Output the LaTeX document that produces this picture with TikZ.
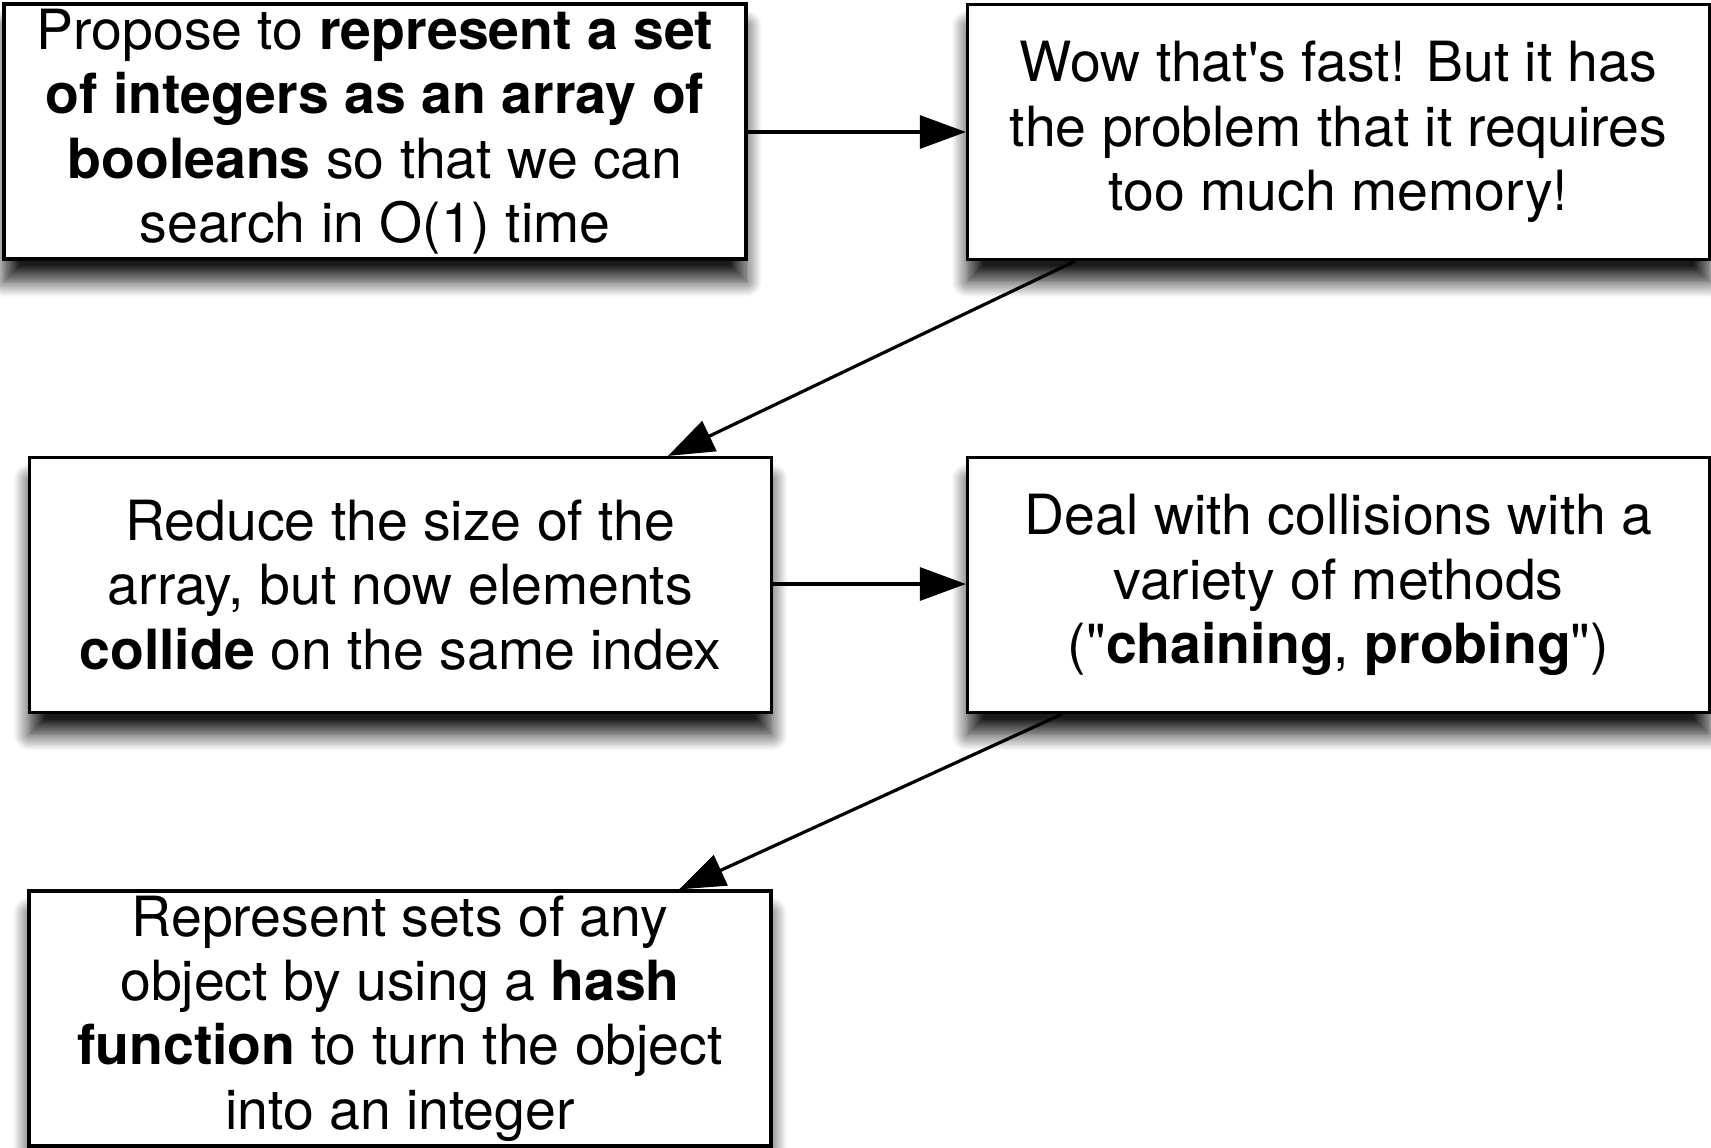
\documentclass[tikz,border=0pt]{standalone}
\usepackage{fontspec}
\setmainfont{TeX Gyre Heros}
\usetikzlibrary{arrows.meta,shadows.blur}
\tikzset{
  box/.style={draw=black, line width=1.6pt, fill=white, align=center,
    minimum width=371pt, minimum height=127.5pt, inner sep=0pt,
    font=\fontsize{27.7}{32.2}\selectfont,
    blur shadow={shadow xshift=0pt, shadow yshift=-11pt, shadow blur radius=8pt, shadow opacity=90, shadow blur steps=12}},
  conn/.style={line width=1.6pt, -{Triangle[length=23pt,width=16.5pt]}}
}
\begin{document}
\begin{tikzpicture}[x=0.5pt,y=-0.5pt]
\useasboundingbox (0,0) rectangle (1711,1147);
\node[box] (b1) at (375,131.5) {Propose to \textbf{represent a set}\\ \textbf{of integers as an array of}\\ \textbf{booleans} so that we can\\ search in O(1) time};
\node[box] (b2) at (1338.5,132) {Wow that\textquotesingle s fast! But it has\\ the problem that it requires\\ too much memory!};
\node[box] (b3) at (400.5,585) {Reduce the size of the\\ array, but now elements\\ \textbf{collide} on the same index};
\node[box] (b4) at (1338.5,585) {Deal with collisions with a\\ variety of methods\\ (\textquotedbl\textbf{chaining}, \textbf{probing}\textquotedbl)};
\node[box] (b5) at (400,1018.5) {Represent sets of any\\ object by using a \textbf{hash}\\ \textbf{function} to turn the object\\ into an integer};
\draw[conn] (b1.east |- 0,132) -- (b2.west |- 0,132);
\draw[conn] (b2.south -| 1075,0) -- (b3.north -| 668,0);
\draw[conn] (b3.east |- 0,584) -- (b4.west |- 0,584);
\draw[conn] (b4.south -| 1062,0) -- (b5.north -| 679,0);
\end{tikzpicture}
\end{document}
